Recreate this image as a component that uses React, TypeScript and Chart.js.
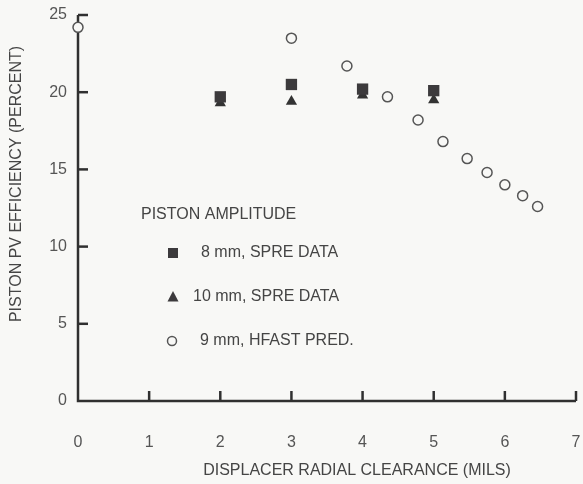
import React, { useEffect, useRef } from "react";
import { Chart, registerables } from "chart.js";

Chart.register(...registerables);

const squareX = [2, 3, 4, 5];
const squareY = [19.7, 20.5, 20.2, 20.1];
const triangleX = [2, 3, 4, 5];
const triangleY = [19.3, 19.4, 19.8, 19.5];
const circleX = [0, 3, 3.78, 4.35, 4.78, 5.13, 5.47, 5.75, 6.0, 6.25, 6.46];
const circleY = [24.2, 23.5, 21.7, 19.7, 18.2, 16.8, 15.7, 14.8, 14.0, 13.3, 12.6];
const xTicks = [0, 1, 2, 3, 4, 5, 6, 7];
const yTicks = [0, 5, 10, 15, 20, 25];
const xTitle = "DISPLACER RADIAL CLEARANCE (MILS)";
const yTitle = "PISTON PV EFFICIENCY (PERCENT)";
const legendTitle = "PISTON AMPLITUDE";
const legendLabels = ["8 mm, SPRE DATA", "10 mm, SPRE DATA", "9 mm, HFAST PRED."];

const FONT = "'Liberation Sans', Arial, sans-serif";
const AXIS = "#303030";
const TEXT = "#454545";
const BG = "#f8f8f6";

const toPts = (xs: number[], ys: number[]) => xs.map((x, i) => ({ x, y: ys[i] }));

const decor = {
  id: "decor",
  beforeDraw(chart: any) {
    const { ctx, width, height } = chart;
    ctx.save();
    ctx.fillStyle = BG;
    ctx.fillRect(0, 0, width, height);
    ctx.restore();
  },
  beforeDatasetsDraw(chart: any) {
    const { ctx, chartArea } = chart;
    const xs = chart.scales.x;
    const ys = chart.scales.y;
    ctx.save();
    ctx.strokeStyle = AXIS;
    ctx.lineWidth = 2.5;
    ctx.beginPath();
    ctx.moveTo(chartArea.left, chartArea.top);
    ctx.lineTo(chartArea.left, chartArea.bottom);
    ctx.lineTo(chartArea.right, chartArea.bottom);
    ctx.stroke();
    yTicks.forEach((v) => {
      if (v === 0) return;
      const py = ys.getPixelForValue(v);
      ctx.beginPath();
      ctx.moveTo(chartArea.left, py);
      ctx.lineTo(chartArea.left + 10, py);
      ctx.stroke();
    });
    xTicks.forEach((v) => {
      if (v === 0) return;
      const px = xs.getPixelForValue(v);
      ctx.beginPath();
      ctx.moveTo(px, chartArea.bottom);
      ctx.lineTo(px, chartArea.bottom - 10);
      ctx.stroke();
    });
    ctx.restore();
  },
  afterDraw(chart: any) {
    const { ctx } = chart;
    ctx.save();
    ctx.fillStyle = TEXT;
    ctx.font = `16px ${FONT}`;
    ctx.textBaseline = "middle";
    ctx.textAlign = "center";
    // axis titles
    ctx.fillText(xTitle, 357, 471);
    ctx.save();
    ctx.translate(17, 184);
    ctx.rotate(-Math.PI / 2);
    ctx.fillText(yTitle, 0, 0);
    ctx.restore();
    // legend
    ctx.textAlign = "left";
    ctx.fillText(legendTitle, 141, 215);
    const mx = 173;
    ctx.fillStyle = "#3c3a3c";
    ctx.fillRect(mx - 5, 253 - 5, 10, 10);
    ctx.beginPath();
    ctx.moveTo(mx, 297 - 6);
    ctx.lineTo(mx + 5.5, 297 + 4.5);
    ctx.lineTo(mx - 5.5, 297 + 4.5);
    ctx.closePath();
    ctx.fill();
    ctx.beginPath();
    ctx.arc(mx - 1, 341, 4.5, 0, Math.PI * 2);
    ctx.strokeStyle = "#555";
    ctx.lineWidth = 1.5;
    ctx.stroke();
    ctx.fillStyle = TEXT;
    ctx.fillText(legendLabels[0], 201, 253);
    ctx.fillText(legendLabels[1], 193, 297);
    ctx.fillText(legendLabels[2], 200, 341);
    ctx.restore();
  },
};

export default function App() {
  const ref = useRef<HTMLCanvasElement>(null);
  useEffect(() => {
    document.body.style.margin = "0";
    const chart = new Chart(ref.current!, {
      type: "scatter",
      data: {
        datasets: [
          {
            label: legendLabels[0],
            data: toPts(squareX, squareY),
            pointStyle: "rect",
            pointRadius: 8,
            backgroundColor: "#3c3a3c",
            borderColor: "#3c3a3c",
            borderWidth: 0,
            clip: false,
          } as any,
          {
            label: legendLabels[1],
            data: toPts(triangleX, triangleY),
            pointStyle: "triangle",
            pointRadius: 6.5,
            backgroundColor: "#333",
            borderColor: "#333",
            borderWidth: 0,
            clip: false,
          } as any,
          {
            label: legendLabels[2],
            data: toPts(circleX, circleY),
            pointStyle: "circle",
            pointRadius: 5,
            backgroundColor: BG,
            borderColor: "#555",
            borderWidth: 1.5,
            clip: false,
          } as any,
        ],
      },
      options: {
        animation: false,
        responsive: false,
        layout: { autoPadding: false, padding: { top: 15, right: 7, left: 0, bottom: 0 } },
        plugins: { legend: { display: false }, tooltip: { enabled: false } },
        scales: {
          x: {
            type: "linear",
            min: 0,
            max: 7,
            afterBuildTicks: (s: any) => {
              s.ticks = xTicks.map((v) => ({ value: v }));
            },
            afterFit: (s: any) => {
              s.height = 83;
              s.paddingLeft = 0;
              s.paddingRight = 0;
            },
            grid: { display: false, drawTicks: false },
            border: { display: false },
            ticks: { color: "#555", font: { family: FONT, size: 16 }, padding: 32 },
            title: { display: false },
          },
          y: {
            type: "linear",
            min: 0,
            max: 25,
            afterBuildTicks: (s: any) => {
              s.ticks = yTicks.map((v) => ({ value: v }));
            },
            afterFit: (s: any) => {
              s.width = 78;
              s.paddingTop = 0;
              s.paddingBottom = 0;
            },
            grid: { display: false, drawTicks: false },
            border: { display: false },
            ticks: { color: "#555", font: { family: FONT, size: 16 }, padding: 11 },
            title: { display: false },
          },
        },
      },
      plugins: [decor],
    });
    return () => chart.destroy();
  }, []);
  return (
    <div style={{ position: "absolute", left: 0, top: 0, width: 583, height: 484 }}>
      <canvas ref={ref} width={583} height={484} style={{ width: 583, height: 484 }} />
    </div>
  );
}
